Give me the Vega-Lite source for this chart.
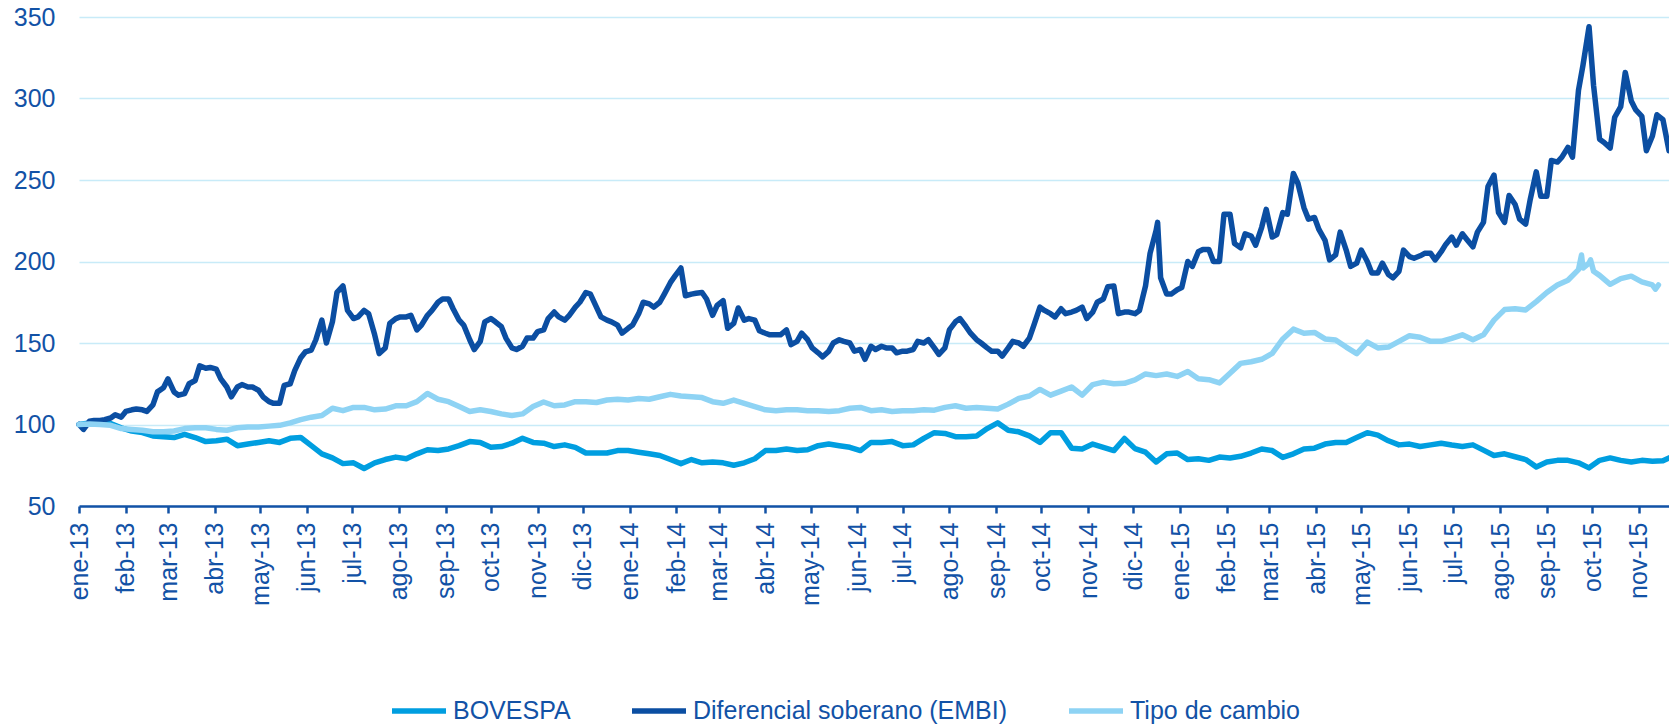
{
"$schema": "https://vega.github.io/schema/vega-lite/v6.json",
"width": 1590,
"height": 489,
"autosize": "none",
"padding": {"left": 79, "top": 17, "right": 0, "bottom": 221},
"background": "white",
"config": {"view": {"stroke": null}, "font": "Liberation Sans"},
"datasets": {
"bovespa": [
{"d":"2013-01-01","v":100},{"d":"2013-01-08","v":101},{"d":"2013-01-15","v":101},{"d":"2013-01-22","v":100.5},{"d":"2013-01-29","v":98},{"d":"2013-02-05","v":96},{"d":"2013-02-12","v":95},{"d":"2013-02-19","v":93},{"d":"2013-02-26","v":92.5},{"d":"2013-03-05","v":92},{"d":"2013-03-12","v":94},{"d":"2013-03-19","v":92},{"d":"2013-03-26","v":89.5},{"d":"2013-04-02","v":90},{"d":"2013-04-09","v":91},{"d":"2013-04-16","v":87},{"d":"2013-04-23","v":88},{"d":"2013-04-30","v":89},{"d":"2013-05-07","v":90},{"d":"2013-05-14","v":89},{"d":"2013-05-21","v":91.5},{"d":"2013-05-28","v":92},{"d":"2013-06-04","v":87},{"d":"2013-06-11","v":82},{"d":"2013-06-18","v":79.5},{"d":"2013-06-25","v":76},
{"d":"2013-07-02","v":76.5},{"d":"2013-07-09","v":73},{"d":"2013-07-16","v":76.5},{"d":"2013-07-23","v":78.5},{"d":"2013-07-30","v":80},{"d":"2013-08-06","v":79},{"d":"2013-08-13","v":82},{"d":"2013-08-20","v":84.5},{"d":"2013-08-27","v":84},{"d":"2013-09-03","v":85},{"d":"2013-09-10","v":87},{"d":"2013-09-17","v":89.5},{"d":"2013-09-24","v":89},{"d":"2013-10-01","v":86},{"d":"2013-10-08","v":86.5},{"d":"2013-10-15","v":88.5},{"d":"2013-10-22","v":91.5},{"d":"2013-10-29","v":89},{"d":"2013-11-05","v":88.5},{"d":"2013-11-12","v":86.5},{"d":"2013-11-19","v":87.5},{"d":"2013-11-26","v":86},{"d":"2013-12-03","v":82.5},{"d":"2013-12-10","v":82.5},{"d":"2013-12-17","v":82.5},
{"d":"2013-12-24","v":84},{"d":"2013-12-31","v":84},{"d":"2014-01-07","v":83},{"d":"2014-01-14","v":82},{"d":"2014-01-21","v":81},{"d":"2014-01-28","v":78.5},{"d":"2014-02-04","v":76},{"d":"2014-02-11","v":78.5},{"d":"2014-02-18","v":76.5},{"d":"2014-02-25","v":77},{"d":"2014-03-04","v":76.5},{"d":"2014-03-11","v":75},{"d":"2014-03-18","v":76.5},{"d":"2014-03-25","v":79},{"d":"2014-04-01","v":84},{"d":"2014-04-08","v":84},{"d":"2014-04-15","v":85},{"d":"2014-04-22","v":84},{"d":"2014-04-29","v":84.5},{"d":"2014-05-06","v":87},{"d":"2014-05-13","v":88},{"d":"2014-05-20","v":87},{"d":"2014-05-27","v":86},{"d":"2014-06-03","v":84},{"d":"2014-06-10","v":89},
{"d":"2014-06-17","v":89},{"d":"2014-06-24","v":89.5},{"d":"2014-07-01","v":87},{"d":"2014-07-08","v":87.5},{"d":"2014-07-15","v":91.5},{"d":"2014-07-22","v":95},{"d":"2014-07-29","v":94.5},{"d":"2014-08-05","v":92.5},{"d":"2014-08-12","v":92.5},{"d":"2014-08-19","v":93},{"d":"2014-08-26","v":97.5},{"d":"2014-09-02","v":101},{"d":"2014-09-09","v":96.5},{"d":"2014-09-16","v":95.5},{"d":"2014-09-23","v":93},{"d":"2014-09-30","v":89},{"d":"2014-10-07","v":95},{"d":"2014-10-14","v":95},{"d":"2014-10-21","v":85.5},{"d":"2014-10-28","v":85},{"d":"2014-11-04","v":88},{"d":"2014-11-11","v":86},{"d":"2014-11-18","v":84},{"d":"2014-11-25","v":91.4},{"d":"2014-12-02","v":85.2},{"d":"2014-12-09","v":83},
{"d":"2014-12-16","v":77},{"d":"2014-12-23","v":82},{"d":"2014-12-30","v":82.5},{"d":"2015-01-06","v":78.5},{"d":"2015-01-13","v":79},{"d":"2015-01-20","v":78},{"d":"2015-01-27","v":80},{"d":"2015-02-03","v":79.5},{"d":"2015-02-10","v":80.5},{"d":"2015-02-17","v":82.5},{"d":"2015-02-24","v":85},{"d":"2015-03-03","v":84},{"d":"2015-03-10","v":79.8},{"d":"2015-03-17","v":82},{"d":"2015-03-24","v":85},{"d":"2015-03-31","v":85.5},{"d":"2015-04-07","v":88},{"d":"2015-04-14","v":89},{"d":"2015-04-21","v":89},{"d":"2015-04-28","v":92},{"d":"2015-05-05","v":95},{"d":"2015-05-12","v":93.5},{"d":"2015-05-19","v":90},{"d":"2015-05-26","v":87.5},{"d":"2015-06-02","v":88},
{"d":"2015-06-09","v":86.5},{"d":"2015-06-16","v":87.5},{"d":"2015-06-23","v":88.5},{"d":"2015-06-30","v":87.4},{"d":"2015-07-07","v":86.5},{"d":"2015-07-14","v":87.5},{"d":"2015-07-21","v":84.3},{"d":"2015-07-28","v":81},{"d":"2015-08-04","v":82},{"d":"2015-08-11","v":80.2},{"d":"2015-08-18","v":78.5},{"d":"2015-08-25","v":74},{"d":"2015-09-01","v":77},{"d":"2015-09-08","v":78},{"d":"2015-09-15","v":78},{"d":"2015-09-22","v":76.5},{"d":"2015-09-29","v":73.4},{"d":"2015-10-06","v":78},{"d":"2015-10-13","v":79.5},{"d":"2015-10-20","v":78},{"d":"2015-10-27","v":77},{"d":"2015-11-03","v":78},{"d":"2015-11-10","v":77.5},{"d":"2015-11-17","v":77.8},{"d":"2015-11-21","v":79.5}
],
"embi": [
{"d":"2013-01-01","v":100},{"d":"2013-01-04","v":97},{"d":"2013-01-08","v":102},{"d":"2013-01-11","v":102.5},{"d":"2013-01-15","v":102.5},{"d":"2013-01-18","v":103},{"d":"2013-01-22","v":104},{"d":"2013-01-25","v":106},{"d":"2013-01-29","v":104.5},{"d":"2013-02-01","v":108},{"d":"2013-02-05","v":109},{"d":"2013-02-08","v":109.5},{"d":"2013-02-12","v":109},{"d":"2013-02-15","v":108},{"d":"2013-02-19","v":112},{"d":"2013-02-22","v":120},{"d":"2013-02-26","v":122.5},{"d":"2013-03-01","v":128},{"d":"2013-03-05","v":120},{"d":"2013-03-08","v":118},{"d":"2013-03-12","v":119},{"d":"2013-03-15","v":125},{"d":"2013-03-19","v":127},{"d":"2013-03-22","v":136},{"d":"2013-03-26","v":134.5},{"d":"2013-03-29","v":135},
{"d":"2013-04-02","v":134},{"d":"2013-04-05","v":128},{"d":"2013-04-09","v":123},{"d":"2013-04-12","v":117},{"d":"2013-04-16","v":123},{"d":"2013-04-19","v":124.5},{"d":"2013-04-23","v":123},{"d":"2013-04-26","v":123},{"d":"2013-04-30","v":121},{"d":"2013-05-03","v":117},{"d":"2013-05-07","v":114},{"d":"2013-05-10","v":113},{"d":"2013-05-14","v":113},{"d":"2013-05-17","v":124},{"d":"2013-05-21","v":125},{"d":"2013-05-24","v":133},{"d":"2013-05-28","v":141},{"d":"2013-05-31","v":144.5},{"d":"2013-06-04","v":145.7},{"d":"2013-06-07","v":152},{"d":"2013-06-11","v":164},{"d":"2013-06-14","v":150},{"d":"2013-06-18","v":163},{"d":"2013-06-21","v":181},{"d":"2013-06-25","v":185},{"d":"2013-06-28","v":170},
{"d":"2013-07-02","v":165},{"d":"2013-07-05","v":166},{"d":"2013-07-09","v":170},{"d":"2013-07-12","v":168},{"d":"2013-07-16","v":155},{"d":"2013-07-19","v":143.5},{"d":"2013-07-23","v":147},{"d":"2013-07-26","v":162},{"d":"2013-07-30","v":165},{"d":"2013-08-02","v":166},{"d":"2013-08-06","v":166},{"d":"2013-08-09","v":167},{"d":"2013-08-13","v":158},{"d":"2013-08-16","v":161},{"d":"2013-08-20","v":167},{"d":"2013-08-23","v":170},{"d":"2013-08-27","v":175},{"d":"2013-08-30","v":177},{"d":"2013-09-03","v":177},{"d":"2013-09-06","v":171},{"d":"2013-09-10","v":164},{"d":"2013-09-13","v":161},{"d":"2013-09-17","v":152},{"d":"2013-09-20","v":146},{"d":"2013-09-24","v":151},{"d":"2013-09-27","v":163},
{"d":"2013-10-01","v":165},{"d":"2013-10-04","v":163},{"d":"2013-10-08","v":160},{"d":"2013-10-11","v":153},{"d":"2013-10-15","v":147},{"d":"2013-10-18","v":146},{"d":"2013-10-22","v":148},{"d":"2013-10-25","v":153},{"d":"2013-10-29","v":153},{"d":"2013-11-01","v":157},{"d":"2013-11-05","v":158},{"d":"2013-11-08","v":165},{"d":"2013-11-12","v":169},{"d":"2013-11-15","v":166},{"d":"2013-11-19","v":164},{"d":"2013-11-22","v":167},{"d":"2013-11-26","v":172},{"d":"2013-11-29","v":175},{"d":"2013-12-03","v":181},{"d":"2013-12-06","v":180},{"d":"2013-12-10","v":172},{"d":"2013-12-13","v":166},{"d":"2013-12-17","v":164},{"d":"2013-12-20","v":163},{"d":"2013-12-24","v":161},{"d":"2013-12-27","v":156},{"d":"2013-12-31","v":159},{"d":"2014-01-03","v":161},
{"d":"2014-01-07","v":168},{"d":"2014-01-10","v":175},{"d":"2014-01-14","v":174},{"d":"2014-01-17","v":172},{"d":"2014-01-21","v":175},{"d":"2014-01-24","v":180},{"d":"2014-01-28","v":187},{"d":"2014-01-31","v":191},{"d":"2014-02-04","v":196},{"d":"2014-02-07","v":179},{"d":"2014-02-11","v":180},{"d":"2014-02-14","v":180.5},{"d":"2014-02-18","v":181},{"d":"2014-02-21","v":177},{"d":"2014-02-25","v":167},{"d":"2014-02-28","v":173},{"d":"2014-03-04","v":176},{"d":"2014-03-07","v":159},{"d":"2014-03-11","v":162},{"d":"2014-03-14","v":171.5},{"d":"2014-03-18","v":164},{"d":"2014-03-21","v":165},{"d":"2014-03-25","v":164},{"d":"2014-03-28","v":157.5},
{"d":"2014-04-01","v":156},{"d":"2014-04-04","v":155},{"d":"2014-04-08","v":155},{"d":"2014-04-11","v":155},{"d":"2014-04-15","v":158},{"d":"2014-04-18","v":149},{"d":"2014-04-22","v":151},{"d":"2014-04-25","v":156},{"d":"2014-04-29","v":152},{"d":"2014-05-02","v":147},{"d":"2014-05-06","v":144},{"d":"2014-05-09","v":141.5},{"d":"2014-05-13","v":145},{"d":"2014-05-16","v":150},{"d":"2014-05-20","v":152},{"d":"2014-05-23","v":151},{"d":"2014-05-27","v":150},{"d":"2014-05-30","v":145},{"d":"2014-06-03","v":146},{"d":"2014-06-06","v":140},{"d":"2014-06-10","v":148},{"d":"2014-06-13","v":146},{"d":"2014-06-17","v":148},{"d":"2014-06-20","v":147},{"d":"2014-06-24","v":147},{"d":"2014-06-27","v":144},
{"d":"2014-07-01","v":145},{"d":"2014-07-04","v":145},{"d":"2014-07-08","v":146},{"d":"2014-07-11","v":151},{"d":"2014-07-15","v":150},{"d":"2014-07-18","v":152},{"d":"2014-07-22","v":147},{"d":"2014-07-25","v":143},{"d":"2014-07-29","v":147},{"d":"2014-08-01","v":158},{"d":"2014-08-05","v":163},{"d":"2014-08-08","v":165},{"d":"2014-08-12","v":160},{"d":"2014-08-15","v":156},{"d":"2014-08-19","v":152},{"d":"2014-08-22","v":150},{"d":"2014-08-26","v":147},{"d":"2014-08-29","v":145},{"d":"2014-09-02","v":145},{"d":"2014-09-05","v":142},{"d":"2014-09-09","v":147},{"d":"2014-09-12","v":151},{"d":"2014-09-16","v":150},{"d":"2014-09-19","v":148},{"d":"2014-09-23","v":153},{"d":"2014-09-26","v":161},
{"d":"2014-09-30","v":172},{"d":"2014-10-03","v":170},{"d":"2014-10-07","v":168},{"d":"2014-10-10","v":166},{"d":"2014-10-14","v":171},{"d":"2014-10-17","v":168},{"d":"2014-10-21","v":169},{"d":"2014-10-24","v":170},{"d":"2014-10-28","v":172},{"d":"2014-10-31","v":165},{"d":"2014-11-04","v":169},{"d":"2014-11-07","v":175},{"d":"2014-11-11","v":177},{"d":"2014-11-14","v":184.5},{"d":"2014-11-18","v":185},{"d":"2014-11-21","v":168},{"d":"2014-11-25","v":169},{"d":"2014-11-28","v":169},{"d":"2014-12-02","v":168},{"d":"2014-12-05","v":170},{"d":"2014-12-09","v":185},{"d":"2014-12-12","v":205},{"d":"2014-12-16","v":219},{"d":"2014-12-17","v":224},{"d":"2014-12-19","v":190},{"d":"2014-12-23","v":180},{"d":"2014-12-26","v":180},{"d":"2014-12-30","v":182.7},{"d":"2015-01-02","v":184},
{"d":"2015-01-06","v":200},{"d":"2015-01-09","v":197},{"d":"2015-01-13","v":206},{"d":"2015-01-16","v":207.4},{"d":"2015-01-20","v":207.4},{"d":"2015-01-23","v":200},{"d":"2015-01-27","v":200},{"d":"2015-01-30","v":229},{"d":"2015-02-03","v":229},{"d":"2015-02-06","v":211},{"d":"2015-02-10","v":208.4},{"d":"2015-02-13","v":217},{"d":"2015-02-17","v":215.6},{"d":"2015-02-20","v":210},{"d":"2015-02-24","v":221},{"d":"2015-02-27","v":232},{"d":"2015-03-03","v":215},{"d":"2015-03-06","v":216.5},{"d":"2015-03-10","v":230},{"d":"2015-03-13","v":229},{"d":"2015-03-17","v":254},{"d":"2015-03-20","v":248},{"d":"2015-03-24","v":233},{"d":"2015-03-27","v":226},
{"d":"2015-03-31","v":227},{"d":"2015-04-03","v":219.5},{"d":"2015-04-07","v":213},{"d":"2015-04-10","v":201},{"d":"2015-04-14","v":204},{"d":"2015-04-17","v":218},{"d":"2015-04-21","v":207},{"d":"2015-04-24","v":197},{"d":"2015-04-28","v":199},{"d":"2015-05-01","v":207},{"d":"2015-05-05","v":200},{"d":"2015-05-08","v":193},{"d":"2015-05-12","v":193},{"d":"2015-05-15","v":199},{"d":"2015-05-19","v":192},{"d":"2015-05-22","v":190},{"d":"2015-05-26","v":194},{"d":"2015-05-29","v":207},
{"d":"2015-06-02","v":203},{"d":"2015-06-05","v":202},{"d":"2015-06-09","v":203.5},{"d":"2015-06-12","v":205},{"d":"2015-06-16","v":205},{"d":"2015-06-19","v":201},{"d":"2015-06-23","v":206},{"d":"2015-06-26","v":210.5},{"d":"2015-06-30","v":215},{"d":"2015-07-03","v":210},{"d":"2015-07-07","v":217},{"d":"2015-07-10","v":213.5},{"d":"2015-07-14","v":209},{"d":"2015-07-17","v":218},{"d":"2015-07-21","v":224},{"d":"2015-07-24","v":246},{"d":"2015-07-28","v":253},{"d":"2015-07-31","v":230},{"d":"2015-08-04","v":224},{"d":"2015-08-07","v":240.5},{"d":"2015-08-11","v":235},{"d":"2015-08-14","v":226},{"d":"2015-08-18","v":223},{"d":"2015-08-21","v":238},{"d":"2015-08-25","v":255},{"d":"2015-08-28","v":240},
{"d":"2015-09-01","v":240},{"d":"2015-09-04","v":262},{"d":"2015-09-08","v":261},{"d":"2015-09-11","v":264},{"d":"2015-09-15","v":270},{"d":"2015-09-18","v":264},{"d":"2015-09-22","v":305},{"d":"2015-09-25","v":320.5},{"d":"2015-09-29","v":344},{"d":"2015-10-02","v":308},{"d":"2015-10-06","v":275},{"d":"2015-10-09","v":273},{"d":"2015-10-13","v":269.6},{"d":"2015-10-16","v":288.5},{"d":"2015-10-20","v":295},{"d":"2015-10-23","v":316},{"d":"2015-10-27","v":298.5},{"d":"2015-10-30","v":293},{"d":"2015-11-03","v":289},{"d":"2015-11-06","v":268},{"d":"2015-11-10","v":277},{"d":"2015-11-13","v":290},{"d":"2015-11-17","v":287},{"d":"2015-11-21","v":268}
],
"tc": [
{"d":"2013-01-01","v":100},{"d":"2013-01-08","v":100.3},{"d":"2013-01-15","v":100},{"d":"2013-01-22","v":99.5},{"d":"2013-01-29","v":97.5},{"d":"2013-02-05","v":97},{"d":"2013-02-12","v":96.5},{"d":"2013-02-19","v":95.5},{"d":"2013-02-26","v":95.5},{"d":"2013-03-05","v":96},{"d":"2013-03-12","v":97.5},{"d":"2013-03-19","v":98},{"d":"2013-03-26","v":98},{"d":"2013-04-02","v":97},{"d":"2013-04-09","v":96.5},{"d":"2013-04-16","v":98},{"d":"2013-04-23","v":98.5},{"d":"2013-04-30","v":98.5},{"d":"2013-05-07","v":99},{"d":"2013-05-14","v":99.5},{"d":"2013-05-21","v":101},{"d":"2013-05-28","v":103},{"d":"2013-06-04","v":104.5},{"d":"2013-06-11","v":105.5},{"d":"2013-06-18","v":110},{"d":"2013-06-25","v":108.5},
{"d":"2013-07-02","v":110.5},{"d":"2013-07-09","v":110.5},{"d":"2013-07-16","v":109},{"d":"2013-07-23","v":109.5},{"d":"2013-07-30","v":111.5},{"d":"2013-08-06","v":111.5},{"d":"2013-08-13","v":114},{"d":"2013-08-20","v":119},{"d":"2013-08-27","v":115.5},{"d":"2013-09-03","v":114},{"d":"2013-09-10","v":111},{"d":"2013-09-17","v":108},{"d":"2013-09-24","v":109},{"d":"2013-10-01","v":108},{"d":"2013-10-08","v":106.5},{"d":"2013-10-15","v":105.5},{"d":"2013-10-22","v":106.5},{"d":"2013-10-29","v":111},{"d":"2013-11-05","v":113.8},{"d":"2013-11-12","v":111.5},{"d":"2013-11-19","v":112},{"d":"2013-11-26","v":114},{"d":"2013-12-03","v":114},{"d":"2013-12-10","v":113.5},{"d":"2013-12-17","v":115},
{"d":"2013-12-24","v":115.5},{"d":"2013-12-31","v":115},{"d":"2014-01-07","v":116},{"d":"2014-01-14","v":115.5},{"d":"2014-01-21","v":117},{"d":"2014-01-28","v":118.5},{"d":"2014-02-04","v":117.5},{"d":"2014-02-11","v":117},{"d":"2014-02-18","v":116.5},{"d":"2014-02-25","v":114},{"d":"2014-03-04","v":113},{"d":"2014-03-11","v":115},{"d":"2014-03-18","v":113},{"d":"2014-03-25","v":111},{"d":"2014-04-01","v":109},{"d":"2014-04-08","v":108.5},{"d":"2014-04-15","v":109},{"d":"2014-04-22","v":109},{"d":"2014-04-29","v":108.5},{"d":"2014-05-06","v":108.5},{"d":"2014-05-13","v":108},{"d":"2014-05-20","v":108.5},{"d":"2014-05-27","v":110},{"d":"2014-06-03","v":110.5},{"d":"2014-06-10","v":108.5},
{"d":"2014-06-17","v":109},{"d":"2014-06-24","v":108},{"d":"2014-07-01","v":108.5},{"d":"2014-07-08","v":108.5},{"d":"2014-07-15","v":109},{"d":"2014-07-22","v":108.8},{"d":"2014-07-29","v":110.5},{"d":"2014-08-05","v":111.5},{"d":"2014-08-12","v":110},{"d":"2014-08-19","v":110.5},{"d":"2014-08-26","v":110},{"d":"2014-09-02","v":109.5},{"d":"2014-09-09","v":112.5},{"d":"2014-09-16","v":116},{"d":"2014-09-23","v":117.5},{"d":"2014-09-30","v":121.5},{"d":"2014-10-07","v":118},{"d":"2014-10-14","v":120.5},{"d":"2014-10-21","v":123},{"d":"2014-10-28","v":118},{"d":"2014-11-04","v":124.5},{"d":"2014-11-11","v":126},{"d":"2014-11-18","v":125},{"d":"2014-11-25","v":125.3},{"d":"2014-12-02","v":127.4},{"d":"2014-12-09","v":131},
{"d":"2014-12-16","v":130},{"d":"2014-12-23","v":131},{"d":"2014-12-30","v":129.5},{"d":"2015-01-06","v":132.5},{"d":"2015-01-13","v":128},{"d":"2015-01-20","v":127.5},{"d":"2015-01-27","v":125.5},{"d":"2015-02-03","v":131.5},{"d":"2015-02-10","v":137.5},{"d":"2015-02-17","v":138.5},{"d":"2015-02-24","v":140},{"d":"2015-03-03","v":143.6},{"d":"2015-03-10","v":152.5},{"d":"2015-03-17","v":158.5},{"d":"2015-03-24","v":156},{"d":"2015-03-31","v":156.5},{"d":"2015-04-07","v":152.5},{"d":"2015-04-14","v":151.9},{"d":"2015-04-21","v":147.5},{"d":"2015-04-28","v":143.5},{"d":"2015-05-05","v":150.5},{"d":"2015-05-12","v":147},{"d":"2015-05-19","v":147.5},{"d":"2015-05-26","v":151},{"d":"2015-06-02","v":154.5},
{"d":"2015-06-09","v":153.5},{"d":"2015-06-16","v":151},{"d":"2015-06-23","v":151},{"d":"2015-06-30","v":152.9},{"d":"2015-07-07","v":155},{"d":"2015-07-14","v":152},{"d":"2015-07-21","v":155},{"d":"2015-07-28","v":164},{"d":"2015-08-04","v":170.5},{"d":"2015-08-11","v":171},{"d":"2015-08-18","v":170.3},{"d":"2015-08-25","v":175.4},{"d":"2015-09-01","v":181},{"d":"2015-09-08","v":185.6},{"d":"2015-09-15","v":188.5},{"d":"2015-09-22","v":195},{"d":"2015-09-24","v":204},{"d":"2015-09-25","v":196},{"d":"2015-09-29","v":199},{"d":"2015-09-30","v":201},{"d":"2015-10-02","v":194},{"d":"2015-10-06","v":191.5},{"d":"2015-10-13","v":186},{"d":"2015-10-20","v":189.5},{"d":"2015-10-27","v":191},{"d":"2015-11-03","v":187.5},{"d":"2015-11-10","v":185.6},{"d":"2015-11-12","v":183},{"d":"2015-11-14","v":185.6}
]
},
"encoding": {
"x": {
"field": "d", "type": "temporal",
"scale": {"type": "utc", "domain": [{"year": 2013, "month": 1, "date": 1, "utc": true}, {"year": 2015, "month": 11, "date": 21, "utc": true}], "nice": false},
"axis": {
"title": null,
"tickCount": {"interval": "month", "step": 1},
"labelExpr": "['ene','feb','mar','abr','may','jun','jul','ago','sep','oct','nov','dic'][utcmonth(datum.value)] + '-' + utcFormat(datum.value, '%y')",
"labelAngle": -90,
"labelFont": "Liberation Sans",
"labelFontSize": 25,
"labelColor": "#1252A6",
"labelPadding": 9,
"labelOverlap": false,
"labelFlush": false,
"labelBound": false,
"domainColor": "#1252A6",
"domainWidth": 2.5,
"tickColor": "#1252A6",
"tickWidth": 2.5,
"tickSize": 7,
"grid": false
}
},
"y": {
"field": "v", "type": "quantitative",
"scale": {"domain": [50, 350], "nice": false, "zero": false},
"axis": {
"title": null,
"values": [50, 100, 150, 200, 250, 300, 350],
"domain": false,
"ticks": false,
"grid": true,
"gridColor": "#C8EBF8",
"gridWidth": 1.3,
"labelFont": "Liberation Sans",
"labelFontSize": 25,
"labelColor": "#1252A6",
"labelPadding": 24,
"labelFlush": false
}
}
},
"layer": [
{
"data": {"name": "bovespa"},
"mark": {"type": "line", "strokeWidth": 5.5, "strokeJoin": "round", "strokeCap": "round"},
"encoding": {
"color": {
"datum": "BOVESPA", "type": "nominal",
"scale": {"domain": ["BOVESPA", "Diferencial soberano (EMBI)", "Tipo de cambio"], "range": ["#009EE0", "#0B4EA2", "#8ED3F4"]},
"legend": {
"orient": "none", "legendX": 310, "legendY": 664, "direction": "horizontal", "title": null,
"symbolType": "stroke", "symbolStrokeWidth": 5.5, "symbolSize": 2916,
"labelFont": "Liberation Sans", "labelFontSize": 25, "labelColor": "#1252A6", "labelLimit": 0,
"columnPadding": 50, "labelOffset": 4
}
}
}
},
{
"data": {"name": "embi"},
"mark": {"type": "line", "strokeWidth": 5.5, "strokeJoin": "round", "strokeCap": "round"},
"encoding": {"color": {"datum": "Diferencial soberano (EMBI)", "type": "nominal"}}
},
{
"data": {"name": "tc"},
"mark": {"type": "line", "strokeWidth": 5.5, "strokeJoin": "round", "strokeCap": "round"},
"encoding": {"color": {"datum": "Tipo de cambio", "type": "nominal"}}
}
]
}
